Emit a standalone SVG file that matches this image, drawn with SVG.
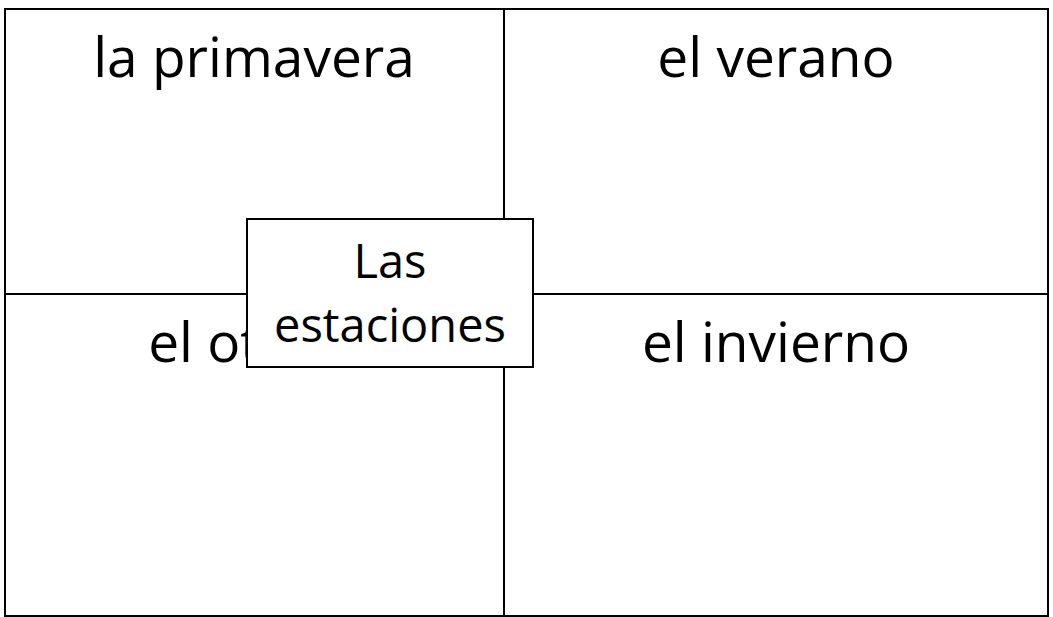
<svg xmlns="http://www.w3.org/2000/svg" width="1053" height="617" viewBox="0 0 1053 617">
<style>
.cell{fill:#fff;stroke:#000;stroke-width:2}
.big{font-family:"Open Sans","Noto Sans",sans-serif;font-size:55px;fill:#000;text-anchor:middle}
.mid{font-family:"Open Sans","Noto Sans",sans-serif;font-size:47px;fill:#000;text-anchor:middle}
</style>
<rect width="1053" height="617" fill="#fff"/>
<g id="frame">
<rect class="cell" x="5" y="9" width="1043" height="607"/>
</g>
<g id="connectors">
<line x1="504" y1="9" x2="504" y2="616" stroke="#000" stroke-width="2"/>
<line x1="5" y1="294" x2="1048" y2="294" stroke="#000" stroke-width="2"/>
</g>
<g id="primavera"><text class="big" x="254" y="77">la primavera</text></g>
<g id="verano"><text class="big" x="776" y="77">el verano</text></g>
<g id="otono"><text class="big" x="254" y="362">el otoño</text></g>
<g id="invierno"><text class="big" x="776" y="362">el invierno</text></g>
<g id="estaciones">
<rect class="cell" x="247" y="219" width="286" height="148"/>
<text class="mid" x="390" y="278">Las</text>
<text class="mid" x="390" y="342">estaciones</text>
</g>
</svg>
